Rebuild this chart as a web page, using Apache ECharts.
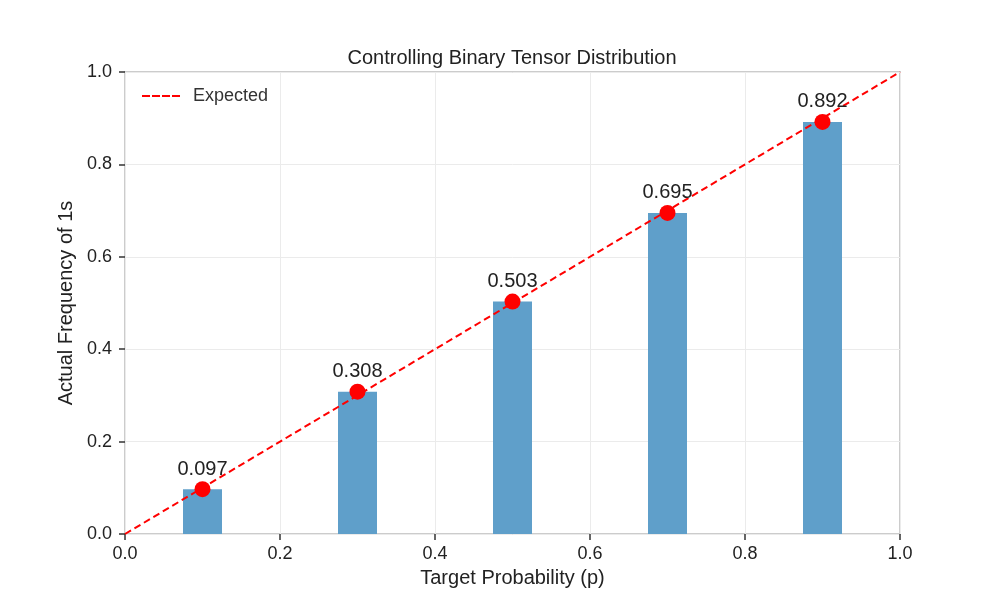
<!DOCTYPE html>
<html>
<head>
<meta charset="utf-8">
<script src="https://cdn.jsdelivr.net/npm/echarts@6/dist/echarts.min.js"></script>
<style>
  html, body { margin: 0; padding: 0; background: #fff; }
  #chart { width: 1000px; height: 600px; }
</style>
</head>
<body>
<div id="chart"></div>
<script>
var targetP = [0.1, 0.3, 0.5, 0.7, 0.9];
var actualFreq = [0.097, 0.308, 0.503, 0.695, 0.892];
var expectedLine = [[0, 0], [1, 1]];
var tickFmt = function (v) { return v.toFixed(1); };

var chart = echarts.init(document.getElementById("chart"));

var points = targetP.map(function (p, i) { return [p, actualFreq[i]]; });

var option = {
  backgroundColor: "#fff",
  animation: false,
  textStyle: { fontFamily: "Liberation Sans, Arial, sans-serif" },
  title: {
    text: "Controlling Binary Tensor Distribution",
    left: 507,
    top: 43,
    textAlign: "center",
    textStyle: { fontSize: 20, fontWeight: "normal", color: "#222" }
  },
  legend: {
    left: 137,
    top: 82,
    itemWidth: 38,
    itemHeight: 12,
    textStyle: { fontSize: 18, color: "#333" },
    formatter: "{a|{name}}",
    data: [{ name: "Expected", icon: "path://M0,0 L8,0 L8,2 L0,2 Z M10,0 L18,0 L18,2 L10,2 Z M20,0 L28,0 L28,2 L20,2 Z M30,0 L38,0 L38,2 L30,2 Z" }]
  },
  grid: { left: 125, right: 100, top: 72, bottom: 66, show: true, borderColor: "#ccc", borderWidth: 2 },
  xAxis: {
    type: "value",
    min: 0, max: 1, interval: 0.2,
    name: "Target Probability (p)",
    nameLocation: "middle",
    nameGap: 34,
    nameTextStyle: { fontSize: 20, color: "#222" },
    axisLine: { show: false },
    axisTick: { show: true, length: 6, lineStyle: { color: "#333", width: 1.5 } },
    axisLabel: { fontSize: 18, color: "#222", margin: 11, formatter: tickFmt },
    splitLine: { show: true, lineStyle: { color: "#ebebeb", width: 1 } }
  },
  yAxis: {
    type: "value",
    min: 0, max: 1, interval: 0.2,
    name: "Actual Frequency of 1s",
    nameLocation: "middle",
    nameGap: 39,
    nameTextStyle: { fontSize: 20, color: "#222" },
    axisLine: { show: false },
    axisTick: { show: true, length: 6, lineStyle: { color: "#333", width: 1.5 } },
    axisLabel: { fontSize: 18, color: "#222", margin: 13, formatter: tickFmt },
    splitLine: { show: true, lineStyle: { color: "#ebebeb", width: 1 } }
  },
  series: [
    {
      name: "Actual",
      type: "bar",
      data: points,
      barWidth: 39,
      itemStyle: { color: "#5f9fca" },
      z: 2
    },
    {
      name: "Expected",
      type: "line",
      data: expectedLine,
      symbol: "none",
      lineStyle: { color: "#ff0000", type: [7, 4], width: 2 },
      itemStyle: { color: "#ff0000" },
      z: 3
    },
    {
      name: "Points",
      type: "scatter",
      data: points,
      symbolSize: 16,
      itemStyle: { color: "#ff0000", opacity: 1 },
      label: {
        show: true,
        position: "top",
        distance: 2,
        fontSize: 20,
        color: "#222",
        formatter: function (p) { return p.value[1].toFixed(3); }
      },
      z: 4
    }
  ]
};

option.legend.textStyle.rich = { a: { fontSize: 18, color: "#333", padding: [0, 0, 0, 8] } };

chart.setOption(option);
</script>
</body>
</html>
